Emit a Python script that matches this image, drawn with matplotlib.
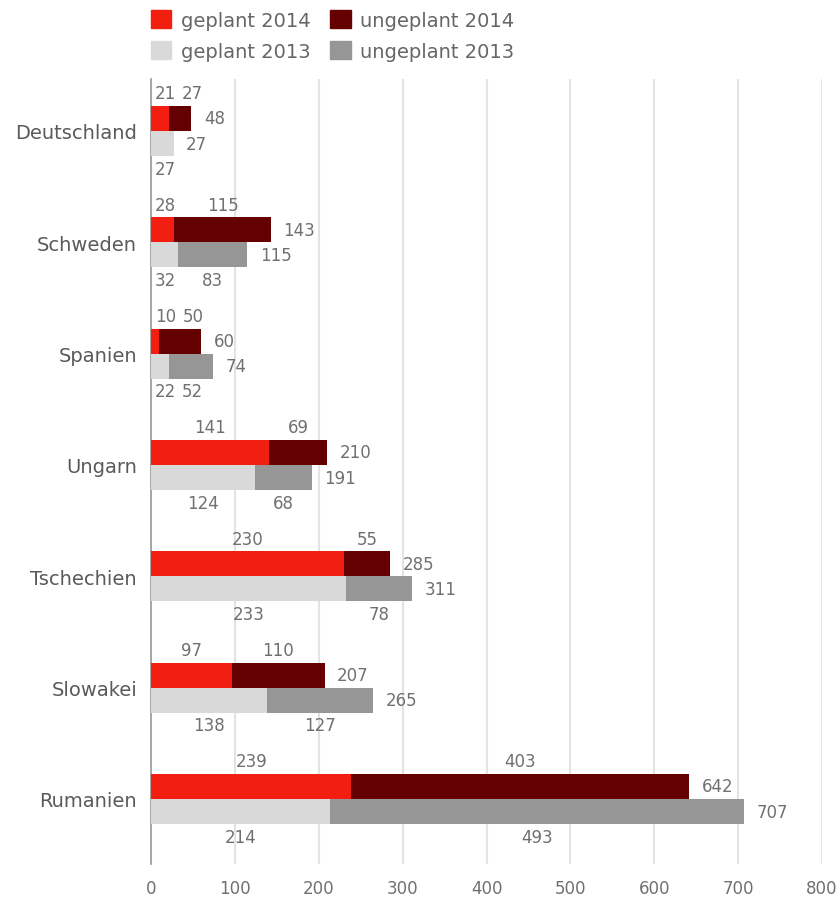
import numpy as np
import matplotlib
matplotlib.use('Agg')
from matplotlib import pyplot as plt
from matplotlib.patches import Patch

# data
laender = ['Deutschland', 'Schweden', 'Spanien', 'Ungarn', 'Tschechien', 'Slowakei', 'Rumanien']
geplant_2014 = [21, 28, 10, 141, 230, 97, 239]
ungeplant_2014 = [27, 115, 50, 69, 55, 110, 403]
summe_2014 = [48, 143, 60, 210, 285, 207, 642]
geplant_2013 = [27, 32, 22, 124, 233, 138, 214]
ungeplant_2013 = [0, 83, 52, 68, 78, 127, 493]
summe_2013 = [27, 115, 74, 191, 311, 265, 707]
xticks = [0, 100, 200, 300, 400, 500, 600, 700, 800]

c_g14, c_u14 = '#f21e0f', '#640000'
c_g13, c_u13 = '#d9d9d9', '#969696'
txt = '#707070'

plt.rcParams['font.family'] = ['DejaVu Sans']
fig = plt.figure(figsize=(8.4, 9.03), dpi=100)
ax = fig.add_axes([151/840, 38/903, 671/840, 785/903])

y = np.arange(len(laender))
h = 0.225
y14 = y - h/2
y13 = y + h/2

ax.barh(y14, geplant_2014, height=h, color=c_g14, zorder=3)
ax.barh(y14, ungeplant_2014, left=geplant_2014, height=h, color=c_u14, zorder=3)
ax.barh(y13, geplant_2013, height=h, color=c_g13, zorder=3)
ax.barh(y13, ungeplant_2013, left=geplant_2013, height=h, color=c_u13, zorder=3)

# rough label widths so small segment labels don't collide
px_per_unit = 671 / 800
digit_px = 10.6

def label_xs(vals):
    xs, prev_x, prev_w, left = [], None, 0, 0
    for v in vals:
        w = digit_px * len(str(v))
        x = left + v / 2
        x = max(x, (4 + w / 2) / px_per_unit)
        if prev_x is not None:
            x = max(x, prev_x + (prev_w / 2 + w / 2 + 6) / px_per_unit)
        xs.append(x)
        prev_x, prev_w = x, w
        left += v
    return xs

# segment labels: 2014 above, 2013 below, totals to the right
for i in range(len(laender)):
    v14 = [geplant_2014[i], ungeplant_2014[i]]
    for val, xl in zip(v14, label_xs(v14)):
        if val > 0:
            ax.annotate(str(val), (xl, y14[i] - h/2), xytext=(0, 9),
                        textcoords='offset points', ha='center', va='center',
                        fontsize=12, color=txt)
    v13 = [v for v in [geplant_2013[i], ungeplant_2013[i]] if v > 0]
    for val, xl in zip(v13, label_xs(v13)):
        ax.annotate(str(val), (xl, y13[i] + h/2), xytext=(0, -9),
                    textcoords='offset points', ha='center', va='center',
                    fontsize=12, color=txt)
    ax.annotate(str(summe_2014[i]), (geplant_2014[i] + ungeplant_2014[i], y14[i]),
                xytext=(9, 0), textcoords='offset points', ha='left', va='center',
                fontsize=12, color=txt)
    ax.annotate(str(summe_2013[i]), (geplant_2013[i] + ungeplant_2013[i], y13[i]),
                xytext=(9, 0), textcoords='offset points', ha='left', va='center',
                fontsize=12, color=txt)

ax.set_xlim(0, 800)
ax.set_ylim(6.584, -0.467)
ax.set_xticks(xticks)
ax.set_xticklabels([str(t) for t in xticks], fontsize=12, color=txt)
ax.set_yticks(y)
ax.set_yticklabels(laender, fontsize=14, color='#5a5a5a')
ax.tick_params(axis='both', length=0)
ax.tick_params(axis='x', pad=11)
ax.tick_params(axis='y', pad=10)
ax.grid(axis='x', color='#e3e3e3', linewidth=1.5, zorder=0)
for s in ['top', 'right', 'bottom']:
    ax.spines[s].set_visible(False)
ax.spines['left'].set_color('#9a9a9a')
ax.spines['left'].set_linewidth(1.2)

handles = [Patch(color=c_g14), Patch(color=c_g13), Patch(color=c_u14), Patch(color=c_u13)]
labels = ['geplant 2014', 'geplant 2013', 'ungeplant 2014', 'ungeplant 2013']
fig.legend(handles, labels, ncol=2, loc='upper left', bbox_to_anchor=(147/840, 1 - 7/903),
           frameon=False, fontsize=14, labelcolor='#666666',
           handlelength=1.05, handleheight=1.05, handletextpad=0.5,
           columnspacing=1.0, labelspacing=0.6, borderaxespad=0, borderpad=0.2)

plt.savefig('out.png', dpi=100)
